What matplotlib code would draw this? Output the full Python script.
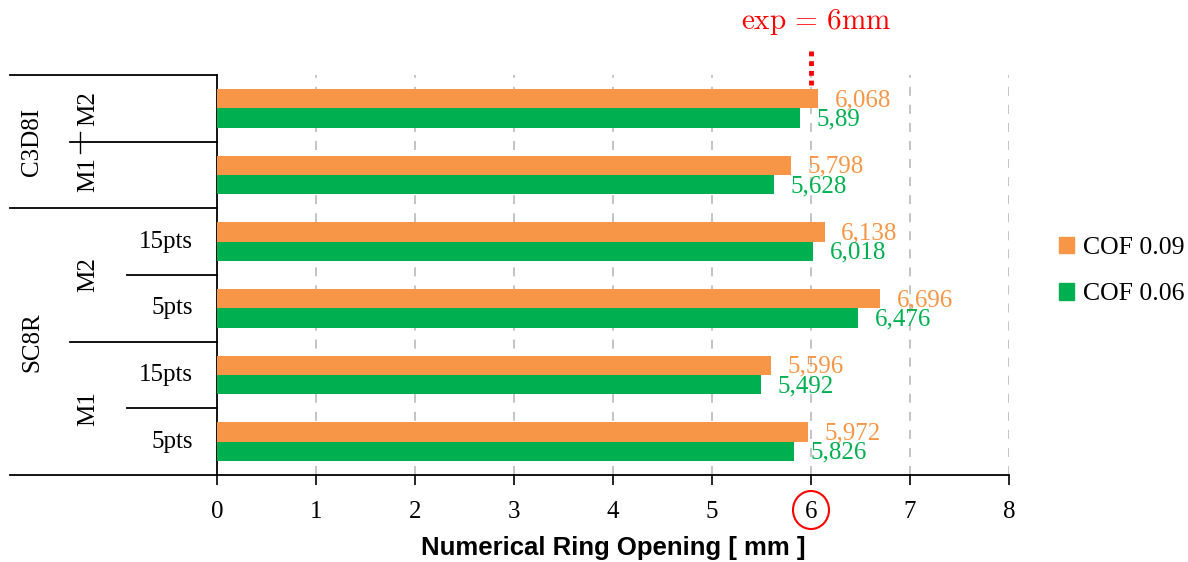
import matplotlib
matplotlib.use("Agg")
import matplotlib.pyplot as plt
import matplotlib.transforms as mtransforms
from matplotlib.patches import Patch, Ellipse

plt.rcParams["font.family"] = ["Liberation Serif", "DejaVu Serif"]
plt.rcParams["mathtext.fontset"] = "cm"

# rows from bottom to top
cof09 = [5.972, 5.596, 6.696, 6.138, 5.798, 6.068]
cof06 = [5.826, 5.492, 6.476, 6.018, 5.628, 5.89]
pts_labels = ["5pts", "15pts", "5pts", "15pts"]
model_labels = [("M1", 0.5), ("M2", 2.5), ("M1", 4.0), ("M2", 5.0)]
elem_labels = [("SC8R", 1.5), ("C3D8I", 4.5)]
series_names = ["COF 0.09", "COF 0.06"]
c_orange = "#F79646"
c_green = "#00B050"
fs = 18

W, H = 1188, 562
fig = plt.figure(figsize=(W / 100, H / 100), dpi=100)
ax = fig.add_axes([217 / W, 1 - 475 / H, (1009 - 217) / W, 400 / H])

ypos = list(range(len(cof09)))
bh = 0.29
ax.barh([y + bh / 2 for y in ypos], cof09, height=bh, color=c_orange, zorder=3)
ax.barh([y - bh / 2 for y in ypos], cof06, height=bh, color=c_green, zorder=3)

def fmt(v):
    return ("%g" % v).replace(".", ",")

for y, v in zip(ypos, cof09):
    ax.annotate(fmt(v), (v, y + bh / 2), xytext=(12, -1), textcoords="offset points",
                va="center", ha="left", color=c_orange, fontsize=fs, zorder=4)
for y, v in zip(ypos, cof06):
    ax.annotate(fmt(v), (v, y - bh / 2), xytext=(12, -1), textcoords="offset points",
                va="center", ha="left", color=c_green, fontsize=fs, zorder=4)

ax.set_xlim(0, 8)
ax.set_ylim(-0.5, 5.5)
ax.set_xticks(range(0, 9))
ax.set_yticks([])
ax.tick_params(axis="x", labelsize=fs, length=7, width=1.2, direction="out", pad=12)
for s in ["top", "right"]:
    ax.spines[s].set_visible(False)
for s in ["left", "bottom"]:
    ax.spines[s].set_linewidth(1.3)
for x in range(1, 9):
    ax.axvline(x, color="#BFBFBF", lw=1.3, ls=(0, (5, 5)), zorder=1)

fig.text(613 / W, 1 - 548 / H, "Numerical Ring Opening [ mm ]", fontsize=18.5,
         family=["Liberation Sans", "DejaVu Sans"], fontweight="bold",
         ha="center", va="center")

# category level separators on the left
tr = mtransforms.blended_transform_factory(fig.transFigure, ax.transData)
seps = [(-0.5, 10), (0.5, 127), (1.5, 70), (2.5, 127), (3.5, 10), (4.5, 70), (5.5, 10)]
for yb, x0 in seps:
    ax.plot([x0 / W, 217 / W], [yb, yb], color="black", lw=1.3, transform=tr, clip_on=False)
ax.plot([80 / W, 80 / W], [4.64, 4.33], color="black", lw=1.0, transform=tr, clip_on=False)

for y, t in zip(ypos, pts_labels):
    ax.text(193 / W, y, t, transform=tr, ha="right", va="center", fontsize=fs)
for t, y in model_labels:
    ax.text(88 / W, y, t, transform=tr, ha="center", va="center", rotation=90, fontsize=fs)
for t, y in elem_labels:
    ax.text(32 / W, y, t, transform=tr, ha="center", va="center", rotation=90, fontsize=fs)

# expected opening marker
ax.plot([6, 6], [5.35, 5.9], color="red", lw=3.5, ls=(0, (1, 1)), clip_on=False)
fig.text(816 / W, 1 - 22 / H, r"$\mathrm{exp}\,=\,6\mathrm{mm}$", color="red",
         fontsize=21, ha="center", va="center")
fig.add_artist(Ellipse((811 / W, 1 - 510 / H), 36 / W, 38 / H, transform=fig.transFigure,
                       fill=False, edgecolor="red", lw=1.5))

handles = [Patch(color=c_orange), Patch(color=c_green)]
fig.legend(handles, series_names, loc="center left", bbox_to_anchor=(1059 / W, 1 - 271 / H),
           frameon=False, fontsize=18.5, handlelength=0.6, handleheight=0.6,
           handletextpad=0.35, labelspacing=0.95, borderpad=0, borderaxespad=0)

fig.savefig("out.png", dpi=100)
